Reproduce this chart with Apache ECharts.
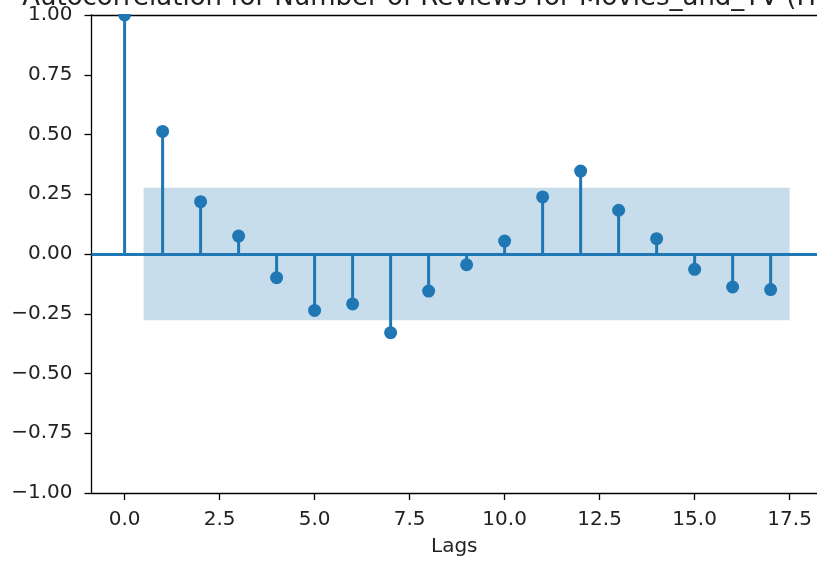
<!DOCTYPE html>
<html>
<head>
<meta charset="utf-8">
<script src="https://cdn.jsdelivr.net/npm/echarts@6/dist/echarts.min.js"></script>
<style>
html,body{margin:0;padding:0;background:#fff;}
#chart{width:817px;height:561px;}
</style>
</head>
<body>
<div id="chart"></div>
<script>
// ---- data ----
const lags = [0,1,2,3,4,5,6,7,8,9,10,11,12,13,14,15,16,17];
const acfValues = [1.0,0.513,0.219,0.075,-0.099,-0.236,-0.209,-0.329,-0.155,-0.045,0.054,0.239,0.347,0.183,0.064,-0.064,-0.138,-0.149];
const confLimit = 0.277;
const bandStart = 0.5;
const bandEnd = 17.5;
const xTicks = [0,2.5,5,7.5,10,12.5,15,17.5];
const titleText = 'Autocorrelation for Number of Reviews for Movies_and_TV (Hourly)';
const xLabel = 'Lags';

const C0 = '#1f77b4';
const FONT = 'DejaVu Sans';
const chart = echarts.init(document.getElementById('chart'), null, {renderer:'canvas'});
const pairs = lags.map((l,i)=>[l, acfValues[i]]);
const fmtY = v => (v < 0 ? '\u2212' : '') + Math.abs(v).toFixed(2);
const XMIN = -0.871, XMAX = 18.22;

chart.setOption({
  animation:false,
  backgroundColor:'#fff',
  grid:{left:91.5, top:15, right:0, bottom:68, outerBoundsMode:'none', containLabel:false},
  graphic:[
    {type:'rect', z:50, shape:{x:93, y:0, width:724, height:14}, style:{fill:'#fff'}},
    {type:'text', x:457, y:-1.5, z:100,
     style:{text:titleText, font:'26px "DejaVu Sans"', fill:'#222', align:'center', verticalAlign:'middle'}}
  ],
  xAxis:[{
    type:'value', min:XMIN, max:XMAX, position:'bottom',
    name:xLabel, nameLocation:'middle', nameGap:44,
    nameTextStyle:{fontFamily:FONT, fontSize:20, color:'#222'},
    axisLine:{show:true, onZero:false, lineStyle:{color:'#000', width:1.3}},
    splitLine:{show:false},
    axisTick:{show:true, length:7, inside:false, customValues:xTicks, lineStyle:{color:'#000', width:1.3}},
    axisLabel:{show:true, customValues:xTicks, margin:17, fontFamily:FONT, fontSize:20, color:'#222',
      formatter:v=>Number(v).toFixed(1)}
  },{
    type:'value', min:XMIN, max:XMAX, position:'top',
    axisLine:{show:true, onZero:false, lineStyle:{color:'#000', width:1.3}},
    axisTick:{show:false}, axisLabel:{show:false}, splitLine:{show:false}
  }],
  yAxis:{
    type:'value', min:-1, max:1, interval:0.25,
    axisLine:{show:true, onZero:false, lineStyle:{color:'#000', width:1.3}},
    splitLine:{show:false},
    axisTick:{show:true, length:7, lineStyle:{color:'#000', width:1.3}},
    axisLabel:{show:true, margin:19, fontFamily:FONT, fontSize:20, color:'#222', formatter:fmtY}
  },
  series:[
    {
      type:'bar', data:pairs, barWidth:3, z:3, xAxisIndex:0,
      itemStyle:{color:C0},
      markLine:{silent:true, symbol:'none', label:{show:false},
        lineStyle:{color:C0, width:3, type:'solid', opacity:1},
        data:[{yAxis:0}]}
    },
    {
      type:'scatter', data:pairs, symbol:'circle', symbolSize:13, z:5, xAxisIndex:0,
      itemStyle:{color:C0, opacity:1},
      markArea:{silent:true, itemStyle:{color:'rgba(31,119,180,0.25)'},
        data:[[{xAxis:bandStart, yAxis:-confLimit},{xAxis:bandEnd, yAxis:confLimit}]]}
    }
  ]
});
</script>
</body>
</html>
